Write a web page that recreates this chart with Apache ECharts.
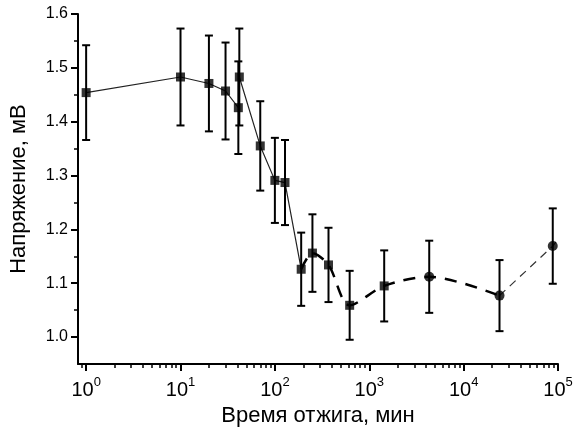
<!DOCTYPE html>
<html>
<head>
<meta charset="utf-8">
<script src="https://cdn.jsdelivr.net/npm/echarts@6/dist/echarts.min.js"></script>
<style>html,body{margin:0;padding:0;background:#fff}#c{width:576px;height:435px}</style>
</head>
<body>
<div id="c"></div>
<script>
// annealing time, min
var times = [1, 10, 20, 30, 41, 42, 70, 100, 128, 190, 250, 370, 620, 1440, 4320, 24000, 88000];
// voltage, mV
var volts = [1.454, 1.483, 1.471, 1.457, 1.426, 1.483, 1.355, 1.291, 1.287, 1.126, 1.156, 1.134, 1.059, 1.095, 1.112, 1.077, 1.169];
// error half-widths, mV
var errs = [0.088, 0.090, 0.089, 0.090, 0.086, 0.090, 0.083, 0.079, 0.079, 0.068, 0.072, 0.069, 0.064, 0.066, 0.067, 0.066, 0.070];
// end of the thin dashed trend line
var trendEnd = [100000, 1.182];

var xMajorTicks = [1, 10, 100, 1000, 10000, 100000];
var xMinorMult = [2, 3, 4, 5, 6, 7, 8, 9];
var yMajorTicks = [1.0, 1.1, 1.2, 1.3, 1.4, 1.5, 1.6];
var yMinorTicks = [1.05, 1.15, 1.25, 1.35, 1.45, 1.55];

var xMinorTicks = [0.9];
xMajorTicks.slice(0, 5).forEach(function (d) { xMinorMult.forEach(function (m) { xMinorTicks.push(d * m); }); });

var FONT = '"Liberation Sans", Arial, sans-serif';
var pts = times.map(function (t, i) { return [t, volts[i]]; });
var solidPart = pts.slice(0, 10);
var thickDashPart = pts.slice(9, 16);
var thinDashPart = pts.slice(15, 17).concat([trendEnd]);
var sqIdx = 14;
var squares = pts.slice(0, sqIdx);
var circles = pts.slice(sqIdx);
var errData = times.map(function (t, i) { return [t, volts[i] - errs[i], volts[i] + errs[i]]; });

var chart = echarts.init(document.getElementById('c'), null, { renderer: 'canvas' });
var X_MIN = 0.82, X_MAX = 100000, Y_MIN = 0.95, Y_MAX = 1.6;
chart.setOption({
  animation: false,
  backgroundColor: '#fff',
  grid: { left: 78, right: 18, top: 14, bottom: 71, containLabel: false },
  xAxis: [{
    type: 'log', logBase: 10, min: X_MIN, max: X_MAX,
    position: 'bottom',
    name: 'Время отжига, мин', nameLocation: 'middle', nameGap: 37,
    nameTextStyle: { fontFamily: FONT, fontSize: 22, color: '#000' },
    axisLine: { show: true, onZero: false, lineStyle: { color: '#000', width: 2 } },
    axisTick: { show: true, inside: false, length: 7, lineStyle: { color: '#000', width: 2 }, customValues: xMajorTicks },
    axisLabel: {
      show: true, margin: 12, customValues: xMajorTicks,
      formatter: function (v) { return '{b|10}{s|' + Math.round(Math.log10(v)) + '}'; },
      rich: {
        b: { fontFamily: FONT, fontSize: 20, color: '#000', verticalAlign: 'bottom', lineHeight: 24 },
        s: { fontFamily: FONT, fontSize: 13, color: '#000', verticalAlign: 'top', padding: [0, 0, 10, 0], lineHeight: 24 }
      }
    },
    splitLine: { show: false }, minorTick: { show: false }
  }, {
    type: 'log', logBase: 10, min: X_MIN, max: X_MAX, position: 'bottom',
    axisLine: { show: false },
    axisTick: { show: true, length: 4, lineStyle: { color: '#000', width: 1.5 }, customValues: xMinorTicks },
    axisLabel: { show: false }, splitLine: { show: false }
  }],
  yAxis: [{
    type: 'value', min: Y_MIN, max: Y_MAX, position: 'left',
    name: 'Напряжение, мВ', nameLocation: 'middle', nameGap: 48, nameRotate: 90,
    nameTextStyle: { fontFamily: FONT, fontSize: 22, color: '#000' },
    axisLine: { show: true, onZero: false, lineStyle: { color: '#000', width: 2 } },
    axisTick: { show: true, length: 7, lineStyle: { color: '#000', width: 2 }, customValues: yMajorTicks },
    axisLabel: {
      show: true, margin: 10, customValues: yMajorTicks,
      fontFamily: FONT, fontSize: 16, color: '#000',
      formatter: function (v) { return v.toFixed(1); }
    },
    splitLine: { show: false }
  }, {
    type: 'value', min: Y_MIN, max: Y_MAX, position: 'left',
    axisLine: { show: false },
    axisTick: { show: true, length: 4, lineStyle: { color: '#000', width: 1.5 }, customValues: yMinorTicks },
    axisLabel: { show: false }, splitLine: { show: false }
  }],
  series: [
    {
      type: 'custom', name: 'err', data: errData, z: 3,
      encode: { x: 0, y: [1, 2] },
      renderItem: function (params, api) {
        var x = api.value(0);
        var lo = api.coord([x, api.value(1)]);
        var hi = api.coord([x, api.value(2)]);
        var hw = 4;
        var st = { stroke: '#000', lineWidth: 2, fill: null };
        return {
          type: 'group', children: [
            { type: 'line', shape: { x1: lo[0], y1: lo[1], x2: hi[0], y2: hi[1] }, style: st },
            { type: 'line', shape: { x1: lo[0] - hw, y1: lo[1], x2: lo[0] + hw, y2: lo[1] }, style: st },
            { type: 'line', shape: { x1: hi[0] - hw, y1: hi[1], x2: hi[0] + hw, y2: hi[1] }, style: st }
          ]
        };
      }
    },
    {
      type: 'line', data: solidPart, showSymbol: false, symbol: 'none', z: 2,
      lineStyle: { color: '#222', width: 1.2 }
    },
    {
      type: 'line', data: thickDashPart, symbol: 'none', smooth: 0.3, z: 2,
      lineStyle: { color: '#000', width: 2.5, type: [12, 9] }
    },
    {
      type: 'line', data: thinDashPart, symbol: 'none', z: 2,
      lineStyle: { color: '#333', width: 1.2, type: [8, 6] }
    },
    {
      type: 'scatter', data: squares, symbol: 'rect', symbolSize: 9, z: 4,
      itemStyle: { color: '#000' }
    },
    {
      type: 'scatter', data: circles, symbol: 'circle', symbolSize: 10, z: 4,
      itemStyle: { color: '#000' }
    }
  ]
});
</script>
</body>
</html>
